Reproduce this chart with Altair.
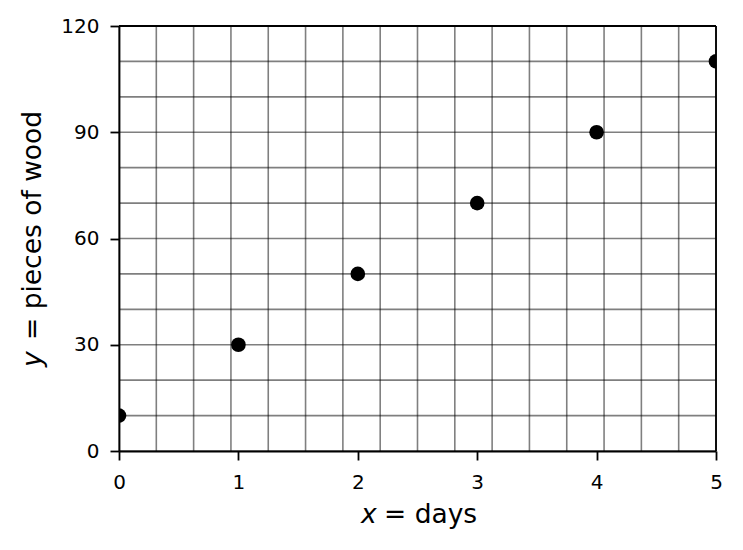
import altair as alt
import pandas as pd

# Data
days = [0, 1, 2, 3, 4, 5]
wood = [10, 30, 50, 70, 90, 110]

x_ticks = [0, 1, 2, 3, 4, 5]
y_ticks = [0, 30, 60, 90, 120]
grid_x = [0, 0.3125, 0.625, 0.9375, 1.25, 1.5625, 1.875, 2.1875, 2.5,
          2.8125, 3.125, 3.4375, 3.75, 4.0625, 4.375, 4.6875, 5]
grid_y = [0, 10, 20, 30, 40, 50, 60, 70, 80, 90, 100, 110, 120]

FONT = "DejaVu Sans"
W, H = 597, 425
TFS = 26.5

xs = alt.Scale(domain=[0, 5], nice=False, zero=False)
ys = alt.Scale(domain=[0, 120], nice=False, zero=False)

axis_common = dict(
    grid=False, title=None, labelFont=FONT, labelFontSize=20, labelColor="black",
    tickColor="black", tickWidth=1.8, tickSize=9, domainColor="black",
    domainWidth=1.8, labelFlush=False, zindex=2,
)
xaxis = alt.Axis(values=x_ticks, labelPadding=12, **axis_common)
yaxis = alt.Axis(values=y_ticks, labelPadding=11, **axis_common)

X = alt.X("x:Q", scale=xs, axis=xaxis)
Y = alt.Y("y:Q", scale=ys, axis=yaxis)

pts = pd.DataFrame({"x": days, "y": wood})

vgrid = alt.Chart(pd.DataFrame({"x": grid_x})).mark_rule(
    color="black", strokeOpacity=0.5, strokeWidth=1.6).encode(x=X)
hgrid = alt.Chart(pd.DataFrame({"y": grid_y})).mark_rule(
    color="black", strokeOpacity=0.5, strokeWidth=1.6).encode(y=Y)

border_r = alt.Chart(pd.DataFrame({"x": [5]})).mark_rule(
    color="black", strokeWidth=1.8).encode(x=X)
border_t = alt.Chart(pd.DataFrame({"y": [120]})).mark_rule(
    color="black", strokeWidth=1.8).encode(y=Y)

points = alt.Chart(pts).mark_circle(
    size=215, color="black", opacity=1, clip=True).encode(x=X, y=Y)

# Axis titles (mixed italic / upright)
xt1 = alt.Chart(pd.DataFrame({"t": ["x"]})).mark_text(
    font=FONT, fontSize=TFS, fontStyle="italic", align="left", baseline="alphabetic",
    color="black").encode(text="t:N", x=alt.value(242), y=alt.value(497))
xt2 = alt.Chart(pd.DataFrame({"t": ["= days"]})).mark_text(
    font=FONT, fontSize=TFS, align="left", baseline="alphabetic",
    color="black").encode(text="t:N", x=alt.value(265), y=alt.value(497))

yt1 = alt.Chart(pd.DataFrame({"t": ["y"]})).mark_text(
    font=FONT, fontSize=TFS, fontStyle="italic", align="left", baseline="alphabetic",
    angle=270, color="black").encode(text="t:N", x=alt.value(-78), y=alt.value(341))
yt2 = alt.Chart(pd.DataFrame({"t": ["= pieces of wood"]})).mark_text(
    font=FONT, fontSize=TFS, align="left", baseline="alphabetic",
    angle=270, color="black").encode(text="t:N", x=alt.value(-78), y=alt.value(314))

chart = alt.layer(
    vgrid, hgrid, points, border_r, border_t, xt1, xt2, yt1, yt2
).properties(
    width=W, height=H,
    autosize=alt.AutoSizeParams(type="none"),
    padding={"left": 111, "top": 18, "right": 19, "bottom": 85},
).configure_view(stroke=None).configure(background="white")

chart.save("out.html", embed_options={"renderer": "svg", "actions": False})
